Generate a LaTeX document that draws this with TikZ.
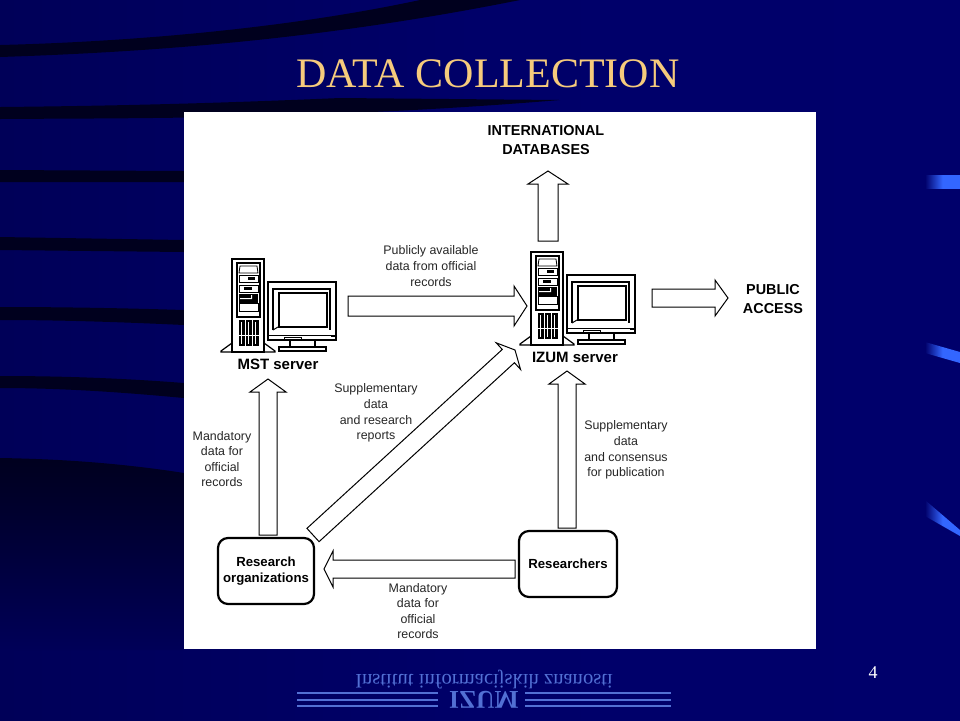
\documentclass[tikz,border=0pt]{standalone}
\usepackage{fontspec}
\setmainfont{Liberation Serif}
\setsansfont{Liberation Sans}
\usetikzlibrary{calc}
\definecolor{slidebg}{HTML}{00006B}
\definecolor{slideleft}{HTML}{000058}
\definecolor{streak}{HTML}{00001E}
\definecolor{titlecol}{HTML}{F6CB7C}
\definecolor{logocol}{HTML}{5270D4}
\definecolor{tickcol}{HTML}{3366FF}

\tikzset{
	caption/.style={font=\sffamily\fontsize{6.2}{7.8}\selectfont,align=center,inner sep=0pt,text=black!85},
	boldcap/.style={font=\sffamily\bfseries\fontsize{7.2}{9.5}\selectfont,align=center,inner sep=0pt},
	servercap/.style={boldcap,font=\sffamily\bfseries\fontsize{7.5}{9.5}\selectfont},
	actor/.style={draw,line width=1.1pt,rounded corners=5pt,fill=white,font=\sffamily\bfseries\fontsize{6.6}{8}\selectfont,align=center,inner sep=0pt},
	tick/.style={left color=slidebg,right color=tickcol,middle color=tickcol},
	headlen/.store in=\headlen, headlen=6.5pt,
	blockarrow/.style={draw,fill=white,line width=0.5pt,line join=miter,
		to path={
			($(\tikztostart)!#1*0.5pt!90:(\tikztotarget)$)
			-- ($($(\tikztotarget)!\headlen!(\tikztostart)$)!#1*0.5pt!90:(\tikztotarget)$)
			-- ($($(\tikztotarget)!\headlen!(\tikztostart)$)!#1*1pt!90:(\tikztotarget)$)
			-- (\tikztotarget)
			-- ($($(\tikztotarget)!\headlen!(\tikztostart)$)!#1*1pt!-90:(\tikztotarget)$)
			-- ($($(\tikztotarget)!\headlen!(\tikztostart)$)!#1*0.5pt!-90:(\tikztotarget)$)
			-- ($(\tikztostart)!#1*0.5pt!-90:(\tikztotarget)$)
			-- cycle}},
	blockarrow/.default=9,
	server/.pic={
		\draw[line width=0.6pt,fill=white] (0,0) rectangle (32,93);						% tower
		\draw[line width=0.6pt] (0,84) -- (-11,92) -- (-11,93) -- (0,93);
		\draw[line width=0.6pt] (32,84) -- (43,92) -- (43,93) -- (32,93);
		\draw[line width=0.6pt] (5,4) rectangle (28,58);
		\draw[line width=0.4pt] (7,14) -- (8,7) -- (25,7) -- (26,14) -- cycle;
		\draw[line width=0.4pt] (7,16) rectangle (26,23);
		\fill (16,18) rectangle (23,21);
		\draw[line width=0.4pt] (7,26) rectangle (26,33);
		\fill (12,28) rectangle (20,31);
		\fill (7,35) rectangle (26,44);
		\fill[white] (8,39) -- (19,39) -- (19,36) -- (20,36) -- (20,40) -- (8,40) -- cycle;
		\draw[line width=0.4pt] (7,44) rectangle (26,52);
		\foreach \ventx in {7,14,21}{
			\fill (\ventx,61) rectangle +(6,26);
			\fill[white] (\ventx+2,63) rectangle +(0.8,22);
			\fill[white] (\ventx,76) rectangle +(6,1);
		}
		\draw[line width=0.7pt,fill=white] (36,23) rectangle (104,81);					% monitor
		\draw[line width=0.7pt] (41,71) -- (41,30) -- (98,30) -- (98,71);
		\draw[line width=0.7pt] (47,34) rectangle (95,68);
		\draw[line width=0.5pt] (41,71) -- (46,68);
		\draw[line width=0.4pt] (36,76) -- (104,76);
		\fill (99,76) rectangle (103,78);
		\draw[line width=0.5pt] (52,78) rectangle (69,81);
		\draw[line width=0.6pt] (58,81) -- (58,88) (83,81) -- (83,88);
		\draw[line width=0.6pt,fill=white] (47,88) rectangle (94,92);
	}
}

\begin{document}
\begin{tikzpicture}[x=0.5pt,y=-0.5pt]
	\useasboundingbox (0,0) rectangle (960,720);
	\shade[left color=slideleft,right color=slidebg,middle color=slidebg!90!slideleft] (0,0) rectangle (960,720);
	% streaks of the slide background
	\fill[streak] (0,57) .. controls (150,52) and (320,40) .. (520,0) -- (420,0) .. controls (280,30) and (120,42) .. (0,45) -- cycle;
	\fill[streak] (0,119) .. controls (120,118) and (320,120) .. (560,100) -- (340,98) .. controls (200,104) and (100,106) .. (0,107) -- cycle;
	\fill[streak] (0,170) -- (184,171) -- (184,182) -- (0,182) -- cycle;
	\fill[streak] (0,237) -- (184,240) -- (184,252) -- (0,250) -- cycle;
	\fill[streak] (0,307) .. controls (60,307) and (120,308) .. (184,310) -- (184,325) .. controls (120,322) and (60,320) .. (0,320) -- cycle;
	\fill[streak] (0,376) .. controls (60,376) and (120,378) .. (184,383) -- (184,398) .. controls (120,392) and (60,388) .. (0,388) -- cycle;
	\shade[top color=streak,bottom color=slideleft] (0,458) .. controls (60,459) and (120,463) .. (184,473) -- (184,650) -- (0,650) -- cycle;
	% ticks on the right
	\shade[tick] (925,175) -- (960,175) -- (960,188) -- (925,188) -- cycle;
	\shade[tick] (925,342) -- (960,352) -- (960,363) -- (925,353) -- cycle;
	\shade[tick] (925,500) -- (960,530) -- (960,536) -- (925,516) -- cycle;

	\node (title) [font=\fontsize{21}{21}\selectfont,text=titlecol,inner sep=0pt] at (488,74) {DATA COLLECTION};
	\node (pageno) [font=\fontsize{9}{9}\selectfont,text=white,inner sep=0pt] at (873,673) {4};

	\fill[white] (184,112) rectangle (816,649);

	\pic (mstpic) at (232,259) {server};
	\pic (izumpic) at (531,252) {server};

	\node (intl) [boldcap] at (546,140) {INTERNATIONAL\\DATABASES};
	\node (mst) [servercap] at (278,364) {MST server};
	\node (izum) [servercap] at (575,357) {IZUM server};
	\node (public) [boldcap] at (773,299) {PUBLIC\\ACCESS};
	\node (resorg) [actor,minimum width=48pt,minimum height=33pt] at (266,571) {Research\\organizations};
	\node (resr) [actor,minimum width=49pt,minimum height=33pt] at (568,564) {Researchers};

	\node (capA) [caption] at (431,266) {Publicly available\\data from official\\records};
	\node (capB) [caption] at (376,413) {Supplementary\\data\\and research\\reports};
	\node (capC) [caption] at (626,450) {Supplementary\\data\\and consensus\\for publication};
	\node (capD) [caption] at (222,459) {Mandatory\\data for\\official\\records};
	\node (capE) [caption] at (418,611) {Mandatory\\data for\\official\\records};

	\coordinate (intlTail) at (548,241);	\coordinate (intlHead) at (548,171);
	\coordinate (mstTail) at (348,306);		\coordinate (mstHead) at (527,306);
	\coordinate (pubTail) at (652,298);		\coordinate (pubHead) at (728,298);
	\coordinate (orgTail) at (268,535);		\coordinate (orgHead) at (268,379);
	\coordinate (resTail) at (567,528);		\coordinate (resHead) at (567,371);
	\coordinate (diagTail) at (313,535);	\coordinate (diagHead) at (515,350);
	\coordinate (horTail) at (515,569);		\coordinate (horHead) at (324,569);

	\draw[blockarrow=10] (intlTail) to (intlHead);
	\draw[blockarrow=10] (mstTail) to (mstHead);
	\draw[blockarrow=9] (pubTail) to (pubHead);
	\draw[blockarrow=9] (orgTail) to (orgHead);
	\draw[blockarrow=9] (resTail) to (resHead);
	\draw[headlen=4.5pt,blockarrow=9] (diagTail) to (diagHead);
	\draw[headlen=4.5pt,blockarrow=9] (horTail) to (horHead);

	% flipped logo under the panel
	\node (logotext) [yscale=-1,font=\fontsize{10.3}{10.3}\selectfont,text=logocol,inner sep=0pt,transform shape] at (484,680) {Institut informacijskih znanosti};
	\node (logoname) [yscale=-1,font=\bfseries\fontsize{12.8}{12.8}\selectfont,text=logocol,inner sep=0pt,transform shape] at (484,700) {IZUM};
	\foreach \liney in {693,700,706}{
		\draw[logocol,line width=0.6pt] (297,\liney) -- (438,\liney) (525,\liney) -- (671,\liney);
	}
\end{tikzpicture}
\end{document}
